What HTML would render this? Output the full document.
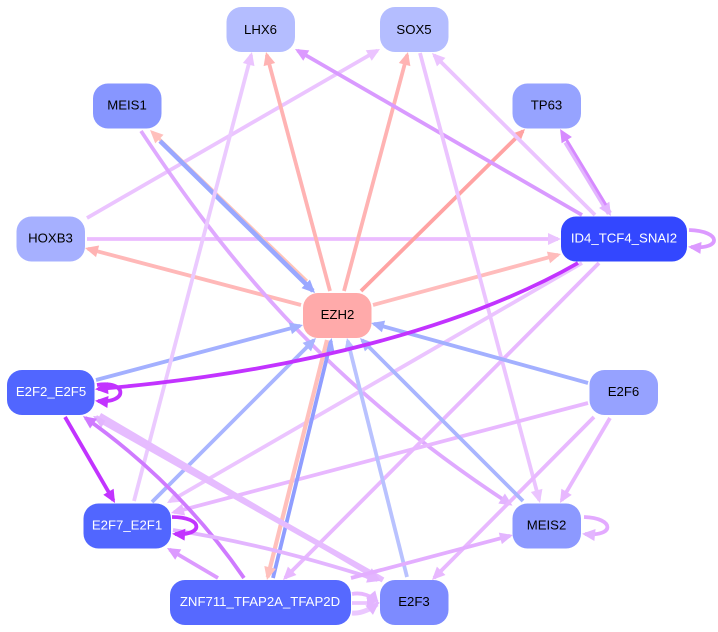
<!DOCTYPE html>
<html><head><meta charset="utf-8"><style>
html,body{margin:0;padding:0;background:#fff}
svg{display:block}
text{font-family:"Liberation Sans",Arial,sans-serif;font-size:13.2px;text-anchor:middle}
.e{fill:none}
</style></head><body>
<svg width="718" height="632" viewBox="0 0 718 632" xmlns="http://www.w3.org/2000/svg">
<defs>
<marker id="a" markerUnits="userSpaceOnUse" markerWidth="16" markerHeight="14" refX="10" refY="6" orient="auto" overflow="visible"><path d="M0,0 L13,6 L0,12 z" fill="#ebc4ff"/></marker>
<marker id="b" markerUnits="userSpaceOnUse" markerWidth="16" markerHeight="14" refX="10" refY="6" orient="auto" overflow="visible"><path d="M0,0 L13,6 L0,12 z" fill="#e8b8ff"/></marker>
<marker id="c" markerUnits="userSpaceOnUse" markerWidth="16" markerHeight="14" refX="10" refY="6" orient="auto" overflow="visible"><path d="M0,0 L13,6 L0,12 z" fill="#ffb3b3"/></marker>
<marker id="d" markerUnits="userSpaceOnUse" markerWidth="16" markerHeight="14" refX="10" refY="6" orient="auto" overflow="visible"><path d="M0,0 L13,6 L0,12 z" fill="#ffa3a3"/></marker>
<marker id="e" markerUnits="userSpaceOnUse" markerWidth="16" markerHeight="14" refX="10" refY="6" orient="auto" overflow="visible"><path d="M0,0 L13,6 L0,12 z" fill="#ffbcbc"/></marker>
<marker id="f" markerUnits="userSpaceOnUse" markerWidth="16" markerHeight="14" refX="10" refY="6" orient="auto" overflow="visible"><path d="M0,0 L13,6 L0,12 z" fill="#a9b5ff"/></marker>
<marker id="g" markerUnits="userSpaceOnUse" markerWidth="16" markerHeight="14" refX="10" refY="6" orient="auto" overflow="visible"><path d="M0,0 L13,6 L0,12 z" fill="#c233ff"/></marker>
<marker id="h" markerUnits="userSpaceOnUse" markerWidth="16" markerHeight="14" refX="10" refY="6" orient="auto" overflow="visible"><path d="M0,0 L13,6 L0,12 z" fill="#dc9aff"/></marker>
<marker id="i" markerUnits="userSpaceOnUse" markerWidth="16" markerHeight="14" refX="10" refY="6" orient="auto" overflow="visible"><path d="M0,0 L13,6 L0,12 z" fill="#e3b5ff"/></marker>
<marker id="j" markerUnits="userSpaceOnUse" markerWidth="16" markerHeight="14" refX="10" refY="6" orient="auto" overflow="visible"><path d="M0,0 L13,6 L0,12 z" fill="#ffc0bc"/></marker>
<marker id="k" markerUnits="userSpaceOnUse" markerWidth="16" markerHeight="14" refX="10" refY="6" orient="auto" overflow="visible"><path d="M0,0 L13,6 L0,12 z" fill="#9aa8ff"/></marker>
<marker id="l" markerUnits="userSpaceOnUse" markerWidth="16" markerHeight="14" refX="10" refY="6" orient="auto" overflow="visible"><path d="M0,0 L13,6 L0,12 z" fill="#b9c2ff"/></marker>
<marker id="m" markerUnits="userSpaceOnUse" markerWidth="16" markerHeight="14" refX="10" refY="6" orient="auto" overflow="visible"><path d="M0,0 L13,6 L0,12 z" fill="#cf7aff"/></marker>
<marker id="n" markerUnits="userSpaceOnUse" markerWidth="16" markerHeight="14" refX="10" refY="6" orient="auto" overflow="visible"><path d="M0,0 L13,6 L0,12 z" fill="#a3b0ff"/></marker>
<marker id="o" markerUnits="userSpaceOnUse" markerWidth="16" markerHeight="14" refX="10" refY="6" orient="auto" overflow="visible"><path d="M0,0 L13,6 L0,12 z" fill="#d68aff"/></marker>
</defs>

<g class="edges" stroke-width="3.8">
<path class="e" d="M87 218L377.4 50.5" stroke="#ebc4ff" marker-end="url(#a)"/>
<path class="e" d="M87 239L558 239" stroke="#ebbcff" marker-end="url(#a)"/>
<path class="e" d="M301 305L87.9 248.8" stroke="#ffb8b8" marker-end="url(#c)"/>
<path class="e" d="M330 291L266.8 54.9" stroke="#ffb3b3" marker-end="url(#c)"/>
<path class="e" d="M344 291L407.2 54.9" stroke="#ffb3b3" marker-end="url(#c)"/>
<path class="e" d="M361 291L522.9 131.1" stroke="#ffa3a3" marker-end="url(#d)"/>
<path class="e" d="M373 305L558.1 254.8" stroke="#ffbcbc" marker-end="url(#e)"/>
<path class="e" d="M307 281L152.2 132.1" stroke="#ffc4b8" stroke-width="3" marker-end="url(#j)"/>
<path class="e" d="M160 141L312.9 290.9" stroke="#9aa8ff" stroke-width="4.6" marker-end="url(#k)"/>
<path class="e" d="M141 131C220 250 320 380 510 504" stroke="#dfa9ff" marker-end="url(#i)"/>
<path class="e" d="M582 215L297.6 50.5" stroke="#d99aff" marker-end="url(#h)"/>
<path class="e" d="M595 215L434.1 55.1" stroke="#ebc4ff" marker-end="url(#a)"/>
<path class="e" d="M420 53L539.2 500.1" stroke="#ebc4ff" marker-end="url(#a)"/>
<path class="e" d="M566 142L609.4 213.4" stroke="#e3b5ff" stroke-width="5.6" marker-end="url(#i)"/>
<path class="e" d="M606 205L561.6 131.6" stroke="#d68aff" stroke-width="2.8" marker-end="url(#o)"/>
<path class="e" d="M599 263L285.1 577.9" stroke="#e8b8ff" marker-end="url(#b)"/>
<path class="e" d="M582 263L169.6 501.5" stroke="#ebc4ff" marker-end="url(#a)"/>
<path class="e" d="M588 383L373.9 323.8" stroke="#a3b0ff" marker-end="url(#n)"/>
<path class="e" d="M588 403L173.9 512.2" stroke="#e8b8ff" marker-end="url(#b)"/>
<path class="e" d="M594 417L434.1 577.9" stroke="#e8b8ff" marker-end="url(#b)"/>
<path class="e" d="M610 418L561.5 500.4" stroke="#e8b8ff" marker-end="url(#b)"/>
<path class="e" d="M523 501L362.1 340.1" stroke="#a9b5ff" marker-end="url(#f)"/>
<path class="e" d="M407 577L347.7 340.9" stroke="#b9c2ff" marker-end="url(#l)"/>
<path class="e" d="M273 578L331 340.9" stroke="#8f9dff" marker-end="url(#k)"/>
<path class="e" d="M327 340L267.7 577.1" stroke="#ffc0bc" stroke-width="4.2" marker-end="url(#j)"/>
<path class="e" d="M152 502L313.9 340.1" stroke="#a9b5ff" marker-end="url(#f)"/>
<path class="e" d="M96 380L300.1 325.8" stroke="#a3b0ff" marker-end="url(#n)"/>
<path class="e" d="M134 501L251.2 54.9" stroke="#ebcaff" marker-end="url(#a)"/>
<path class="e" d="M578 263C470 325 300 372 98 389" stroke="#c233ff" marker-end="url(#g)"/>
<path class="e" d="M65 417L113.5 500.4" stroke="#c233ff" marker-end="url(#g)"/>
<path class="e" d="M383 580L95.6 417.5" stroke="#e6bcff" stroke-width="5.5" marker-end="url(#i)"/>
<path class="e" d="M100 415L377.4 578.5" stroke="#e6bcff" stroke-width="4.5" marker-end="url(#i)"/>
<path class="e" d="M244 578Q180 485 85.4 417.8" stroke="#cf7aff" marker-end="url(#m)"/>
<path class="e" d="M218 578L169.6 549.5" stroke="#dc9aff" marker-end="url(#h)"/>
<path class="e" d="M173 530Q270 545 377.5 580" stroke="#e3b5ff" marker-end="url(#i)"/>
<path class="e" d="M351 578L510 535.8" stroke="#e3aeff" marker-end="url(#i)"/>
<path class="e" d="M352 594C362 592 372 596 377 602" stroke="#e8b8ff" marker-end="url(#i)"/>
<path class="e" d="M352 603L377 603" stroke="#ebc4ff" marker-end="url(#i)"/>
<path class="e" d="M352 613C362 614 372 608 377 604" stroke="#ebc8ff" stroke-width="5" marker-end="url(#i)"/>
<path class="e" d="M97 385C128 380 128 404 98 401" stroke="#c233ff" marker-end="url(#g)"/>
<path class="e" d="M172 517C204 517 204 536 175 534" stroke="#c233ff" marker-end="url(#g)"/>
<path class="e" d="M584 517C615 518 615 537 585 534" stroke="#e3aaff" marker-end="url(#i)"/>
<path class="e" d="M689 230C722 231 722 250 691 247" stroke="#dc9aff" marker-end="url(#h)"/>
</g>

<g class="nodes">
<rect x="226.5" y="7" width="68.5" height="45" rx="15" fill="#b4bdff"/>
<text x="260.500" y="34" fill="#000">LHX6</text>
<rect x="380" y="7" width="68.5" height="45" rx="15" fill="#b4bdff"/>
<text x="414" y="34" fill="#000">SOX5</text>
<rect x="512.5" y="83.5" width="68.5" height="45" rx="15" fill="#96a3ff"/>
<text x="546.500" y="109.5" fill="#000">TP63</text>
<rect x="93" y="83.5" width="68.5" height="45" rx="15" fill="#8796ff"/>
<text x="127" y="109.5" fill="#000">MEIS1</text>
<rect x="16.500" y="216.500" width="68.5" height="45" rx="15" fill="#a6b0ff"/>
<text x="50.500" y="242.500" fill="#000">HOXB3</text>
<rect x="561" y="216.500" width="126" height="45" rx="15" fill="#3347ff"/>
<text x="624" y="242.500" fill="#fff">ID4_TCF4_SNAI2</text>
<rect x="303" y="293" width="68.5" height="45" rx="15" fill="#ffaaaa"/>
<text x="337.500" y="319" fill="#000">EZH2</text>
<rect x="7" y="370" width="87.500" height="45" rx="15" fill="#5166ff"/>
<text x="51" y="396" fill="#fff">E2F2_E2F5</text>
<rect x="589.500" y="370" width="68.5" height="45" rx="15" fill="#96a2ff"/>
<text x="623.500" y="396" fill="#000">E2F6</text>
<rect x="83.5" y="503.5" width="87.500" height="45" rx="15" fill="#5166ff"/>
<text x="127" y="529.5" fill="#fff">E2F7_E2F1</text>
<rect x="512.5" y="503.5" width="68.5" height="45" rx="15" fill="#8c99ff"/>
<text x="546.500" y="529.5" fill="#000">MEIS2</text>
<rect x="170" y="580" width="181" height="45" rx="15" fill="#5669ff"/>
<text x="260" y="606" fill="#fff">ZNF711_TFAP2A_TFAP2D</text>
<rect x="380" y="580" width="68.5" height="45" rx="15" fill="#7d8bff"/>
<text x="414" y="606" fill="#000">E2F3</text>
</g>
</svg>
</body></html>
